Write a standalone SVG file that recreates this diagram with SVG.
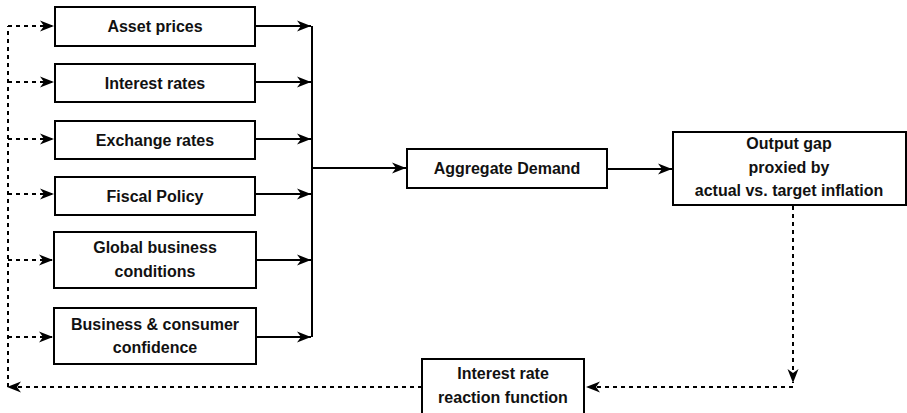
<svg xmlns="http://www.w3.org/2000/svg" width="907" height="413" viewBox="0 0 907 413">
<style>
.box{fill:#fff;stroke:#000;stroke-width:2}
.t{font-family:"Liberation Sans",Arial,Helvetica,sans-serif;font-weight:bold;font-size:16px;fill:#111;text-anchor:middle;dominant-baseline:central}
.e{fill:none;stroke:#000;stroke-width:2}
.d{fill:none;stroke:#000;stroke-width:2;stroke-dasharray:4 4}
</style>
<defs>
<marker id="arr" markerUnits="userSpaceOnUse" markerWidth="15" markerHeight="12" refX="14" refY="5.5" orient="auto" viewBox="0 0 15 11">
<path d="M0,0 L14,5.5 L0,11 L4,5.5 Z" fill="#000"/>
</marker>
</defs>
<rect width="907" height="413" fill="#fff"/>
<g id="connectors">
<path class="e" d="M255,26 H311" marker-end="url(#arr)"/>
<path class="e" d="M255,82 H311" marker-end="url(#arr)"/>
<path class="e" d="M255,139 H311" marker-end="url(#arr)"/>
<path class="e" d="M255,194 H311" marker-end="url(#arr)"/>
<path class="e" d="M256,260 H311" marker-end="url(#arr)"/>
<path class="e" d="M256,337 H311" marker-end="url(#arr)"/>
<path class="e" d="M312,26 V337"/>
<path class="e" d="M312,168 H406" marker-end="url(#arr)"/>
<path class="e" d="M607,169 H672" marker-end="url(#arr)"/>
<path class="d" d="M793,206 V383" marker-end="url(#arr)"/>
<path class="d" d="M793,387 H586" marker-end="url(#arr)"/>
<path class="d" d="M422,387 H7" marker-end="url(#arr)"/>
<path class="d" d="M8,387 V26"/>
<path class="d" d="M8,26 H54" marker-end="url(#arr)"/>
<path class="d" d="M8,82 H54" marker-end="url(#arr)"/>
<path class="d" d="M8,139 H54" marker-end="url(#arr)"/>
<path class="d" d="M8,194 H54" marker-end="url(#arr)"/>
<path class="d" d="M8,260 H53" marker-end="url(#arr)"/>
<path class="d" d="M8,337 H53" marker-end="url(#arr)"/>
</g>
<g id="asset-prices"><rect class="box" x="55" y="7" width="200" height="39"/><text class="t" x="155" y="26.5">Asset prices</text></g>
<g id="interest-rates"><rect class="box" x="55" y="64" width="200" height="38"/><text class="t" x="155" y="83">Interest rates</text></g>
<g id="exchange-rates"><rect class="box" x="55" y="121" width="200" height="38"/><text class="t" x="155" y="140">Exchange rates</text></g>
<g id="fiscal-policy"><rect class="box" x="55" y="177" width="200" height="38"/><text class="t" x="155" y="196">Fiscal Policy</text></g>
<g id="global-business"><rect class="box" x="54" y="232" width="202" height="56"/><text class="t" x="155" y="247">Global business</text><text class="t" x="155" y="271">conditions</text></g>
<g id="business-confidence"><rect class="box" x="54" y="308" width="202" height="56"/><text class="t" x="155" y="324">Business &amp; consumer</text><text class="t" x="155" y="347">confidence</text></g>
<g id="aggregate-demand"><rect class="box" x="407" y="149" width="200" height="39"/><text class="t" x="507" y="168.5">Aggregate Demand</text></g>
<g id="output-gap"><rect class="box" x="673" y="132" width="233" height="73"/><text class="t" x="789" y="143">Output gap</text><text class="t" x="789" y="167">proxied by</text><text class="t" x="789" y="190">actual vs. target inflation</text></g>
<g id="reaction-function"><rect class="box" x="422" y="359" width="162" height="58"/><text class="t" x="503" y="373">Interest rate</text><text class="t" x="503" y="397">reaction function</text></g>
</svg>
